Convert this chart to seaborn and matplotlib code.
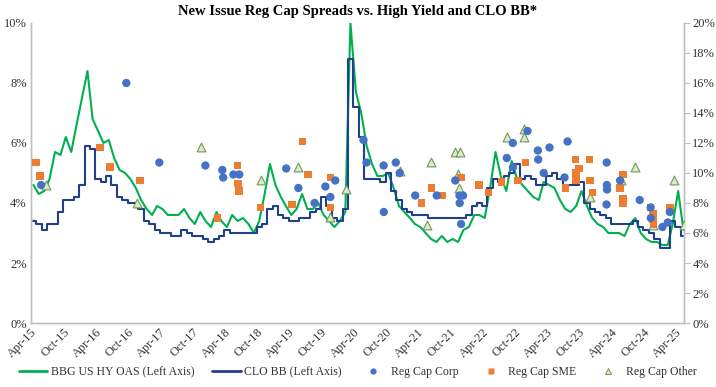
import pandas as pd
import matplotlib
matplotlib.use("Agg")
import matplotlib.pyplot as plt
import matplotlib.dates as mdates
import seaborn as sns
from matplotlib.ticker import FuncFormatter, MultipleLocator
from matplotlib.lines import Line2D

# monthly series, Apr-15 .. May-25 (left axis, %)
hy_oas = [4.6, 4.3, 4.4, 4.8, 5.7, 5.6, 6.2, 5.7, 6.6, 7.5,
          8.4, 6.8, 6.4, 6.0, 6.1, 5.5, 5.1, 5.0, 4.8, 4.5,
          4.1, 3.8, 3.6, 3.9, 3.8, 3.6, 3.6, 3.6, 3.8, 3.5,
          3.3, 3.7, 3.4, 3.2, 3.7, 3.4, 3.2, 3.6, 3.4, 3.5,
          3.3, 3.0, 3.4, 4.3, 5.3, 4.6, 4.2, 3.9, 3.6, 3.8,
          4.3, 3.8, 3.8, 4.0, 3.6, 3.4, 3.2, 3.4, 3.7, 10.0,
          7.7, 7.0, 5.9, 5.3, 4.9, 4.9, 5.0, 4.5, 3.9, 3.7,
          3.5, 3.3, 3.2, 3.0, 2.8, 2.7, 2.9, 2.7, 2.8, 2.7,
          3.1, 3.2, 3.6, 3.6, 3.5, 4.5, 5.7, 4.9, 4.4, 5.4,
          4.8, 4.6, 4.4, 4.2, 4.1, 4.7, 4.6, 4.5, 4.1, 3.8,
          3.7, 3.9, 4.4, 3.9, 3.5, 3.3, 3.2, 3.0, 3.0, 3.0,
          2.9, 3.3, 3.5, 3.0, 2.8, 2.7, 2.7, 2.6, 2.6, 3.3,
          4.4, 3.1]

clo_bb = [3.4, 3.3, 3.1, 3.3, 3.3, 3.7, 4.1, 4.1, 4.2, 4.6,
          5.9, 5.8, 4.8, 4.7, 4.9, 4.6, 4.2, 4.1, 4.0, 4.0,
          3.8, 3.4, 3.3, 3.1, 3.0, 3.0, 2.9, 2.9, 3.1, 3.0,
          2.9, 2.9, 2.8, 2.7, 2.8, 2.9, 3.1, 3.0, 3.0, 3.0,
          3.0, 3.0, 3.2, 3.3, 3.8, 3.9, 3.6, 3.5, 3.4, 3.4,
          3.5, 3.5, 3.7, 3.8, 4.2, 3.9, 3.5, 3.4, 3.8, 8.8,
          7.2, 6.2, 4.8, 4.8, 4.8, 4.7, 5.0, 4.4, 4.1, 3.8,
          3.7, 3.6, 3.6, 3.6, 3.5, 3.5, 3.5, 3.5, 3.5, 3.5,
          3.5, 3.6, 3.9, 4.0, 3.9, 4.5, 4.8, 4.7, 4.9, 5.0,
          5.3, 4.8, 4.9, 4.8, 4.6, 4.6, 4.9, 5.0, 4.8, 4.6,
          4.6, 4.6, 4.7, 4.0, 3.8, 3.7, 3.6, 3.5, 3.3, 3.3,
          3.3, 3.3, 3.4, 3.2, 3.1, 3.0, 2.8, 2.5, 2.5, 3.4,
          3.2, 2.9]

# new issue deals (right axis, %)
corp_dates = ["2015-05-28", "2016-09-22", "2017-03-28", "2017-12-14", "2018-03-20",
              "2018-03-25", "2018-05-22", "2018-06-24", "2019-03-17", "2019-05-25",
              "2019-08-25", "2019-10-25", "2019-11-22", "2019-12-20", "2020-05-28",
              "2020-06-14", "2020-09-19", "2020-09-20", "2020-11-27", "2020-12-19",
              "2021-03-17", "2021-07-17", "2021-10-30", "2021-11-23", "2021-12-13",
              "2021-11-24", "2021-12-02", "2022-08-18", "2022-09-21", "2022-09-22",
              "2022-12-13", "2023-02-10", "2023-02-12", "2023-03-15", "2023-04-17",
              "2023-07-11", "2023-07-28", "2024-03-06", "2024-03-07", "2024-03-08",
              "2024-03-05", "2024-05-21", "2024-09-09", "2024-11-10", "2024-11-11",
              "2025-01-16", "2025-02-15", "2025-02-27"]
corp_vals = [9.2, 16.0, 10.7, 10.5, 10.2,
             9.7, 9.9, 9.9, 10.3, 9.0,
             8.0, 9.1, 8.4, 9.5, 12.2,
             10.7, 10.5, 7.4, 10.7, 10.0,
             8.5, 8.5, 9.5, 8.5, 8.5,
             8.0, 6.6, 11.0, 12.0, 10.4,
             12.8, 11.5, 10.9, 10.0, 11.7,
             9.7, 12.1, 10.7, 9.2, 8.9,
             7.9, 9.5, 8.2, 7.7, 7.0,
             6.4, 6.7, 7.4]

sme_dates = ["2015-05-01", "2015-05-22", "2016-04-27", "2016-06-23", "2016-12-08",
             "2018-02-20", "2018-06-13", "2018-06-18", "2018-06-24", "2018-10-23",
             "2019-04-20", "2019-06-17", "2019-07-20", "2019-11-22", "2019-11-23",
             "2021-04-21", "2021-06-17", "2021-08-19", "2021-12-02", "2022-03-15",
             "2022-05-07", "2022-07-19", "2022-10-20", "2022-12-02", "2023-07-17",
             "2023-09-12", "2023-10-02", "2023-09-13", "2023-09-14", "2023-11-30",
             "2023-12-01", "2023-12-17", "2024-05-21", "2024-06-06", "2024-06-07",
             "2024-06-08", "2024-11-10", "2024-11-24", "2024-11-25", "2024-11-26",
             "2025-02-27"]
sme_vals = [10.7, 9.8, 11.7, 10.4, 9.5,
            7.0, 10.5, 9.3, 8.8, 7.7,
            7.9, 12.1, 9.9, 9.7, 7.7,
            8.0, 9.0, 8.5, 9.7, 9.2,
            8.7, 9.4, 9.5, 10.7, 9.0,
            10.9, 10.3, 10.0, 9.5, 10.9,
            9.5, 8.7, 9.0, 9.9, 8.3,
            8.0, 7.7, 7.3, 6.9, 6.6,
            7.7]

other_dates = ["2015-06-26", "2016-11-23", "2017-11-21", "2018-10-23", "2019-05-25",
               "2019-11-22", "2020-02-21", "2020-12-19", "2021-05-20", "2021-06-17",
               "2021-10-30", "2021-11-23", "2021-11-17", "2021-11-18", "2022-08-18",
               "2022-11-21", "2022-11-22", "2023-11-30", "2024-05-27", "2024-08-14",
               "2024-11-24", "2025-03-25", "2025-05-16"]
other_vals = [9.2, 8.0, 11.7, 9.5, 10.4,
              7.1, 8.9, 10.1, 6.5, 10.7,
              11.4, 11.4, 9.9, 9.0, 12.4,
              12.4, 12.9, 8.4, 9.5, 10.4,
              6.5, 9.5, 6.5]

months = pd.date_range("2015-04-01", "2025-05-01", freq="MS") + pd.Timedelta(days=14)
lines_df = pd.DataFrame({"date": months, "hy": hy_oas, "clo": clo_bb})

green = "#00B050"
navy = "#203F8C"
c_corp = "#4472C4"
c_sme = "#ED7D31"
c_oth_face = "#DCE9D2"
c_oth_edge = "#6F9A52"
grey = "#BFBFBF"
txt = "#333333"

sns.set_style("white")
plt.rcParams["font.family"] = ["Liberation Serif", "DejaVu Serif"]

fig = plt.figure(figsize=(7.16, 3.87), dpi=100)
ax = fig.add_axes([31 / 716, 1 - 323 / 387, 653 / 716, 300 / 387])
ax2 = ax.twinx()

sns.lineplot(data=lines_df, x="date", y="hy", ax=ax, color=green, lw=1.5)
sns.lineplot(data=lines_df, x="date", y="clo", ax=ax, color=navy, lw=1.5,
             drawstyle="steps-mid")

sns.scatterplot(x=pd.to_datetime(other_dates), y=other_vals, ax=ax2, marker="^", s=40,
                color=c_oth_face, edgecolor=c_oth_edge, linewidth=0.8, zorder=3)
sns.scatterplot(x=pd.to_datetime(sme_dates), y=sme_vals, ax=ax2, marker="s", s=30,
                color=c_sme, edgecolor="none", linewidth=0, zorder=4)
sns.scatterplot(x=pd.to_datetime(corp_dates), y=corp_vals, ax=ax2, marker="o", s=36,
                color=c_corp, edgecolor="none", linewidth=0, zorder=5)

ax.set_xlim(pd.Timestamp("2015-04-01"), pd.Timestamp("2025-05-18"))
ax.set_ylim(0, 10)
ax2.set_ylim(0, 20)
ax.yaxis.set_major_locator(MultipleLocator(2))
ax2.yaxis.set_major_locator(MultipleLocator(2))
pct = FuncFormatter(lambda v, p: f"{v:.0f}%")
ax.yaxis.set_major_formatter(pct)
ax2.yaxis.set_major_formatter(pct)
ax.xaxis.set_major_locator(mdates.MonthLocator(bymonth=[4, 10]))
ax.xaxis.set_major_formatter(mdates.DateFormatter("%b-%y"))

for a in (ax, ax2):
    a.set_xlabel("")
    a.set_ylabel("")
    a.spines["top"].set_visible(False)
    for s in ("left", "right", "bottom"):
        a.spines[s].set_color(grey)
        a.spines[s].set_linewidth(1)

ax.tick_params(axis="y", length=0, labelsize=9, labelcolor=txt, pad=3)
ax2.tick_params(axis="y", length=4, color=grey, labelsize=9, labelcolor=txt, pad=2)
ax.tick_params(axis="x", length=0, labelsize=9, labelcolor=txt, pad=2)
for lab in ax.get_xticklabels():
    lab.set_rotation(45)
    lab.set_ha("right")
    lab.set_rotation_mode("anchor")

fig.text(0.5, 1 - 11 / 387, "New Issue Reg Cap Spreads vs. High Yield and CLO BB*",
         ha="center", va="center", fontsize=10.5, fontweight="bold", color="black")

handles = [
    Line2D([], [], color=green, lw=2),
    Line2D([], [], color=navy, lw=2),
    Line2D([], [], marker="o", ls="", color=c_corp, ms=4.5, mec="none"),
    Line2D([], [], marker="s", ls="", color=c_sme, ms=4, mec="none"),
    Line2D([], [], marker="^", ls="", mfc=c_oth_face, mec=c_oth_edge, ms=4.5, mew=0.7),
]
labels = ["BBG US HY OAS (Left Axis)", "CLO BB (Left Axis)", "Reg Cap Corp",
          "Reg Cap SME", "Reg Cap Other"]
fig.legend(handles, labels, loc="center", bbox_to_anchor=(0.5, 1 - 372 / 387), ncol=5,
           frameon=False, fontsize=8.5, handlelength=2.4, handletextpad=0.3,
           columnspacing=1.5, labelcolor=txt)

fig.savefig("out.png", dpi=100)
